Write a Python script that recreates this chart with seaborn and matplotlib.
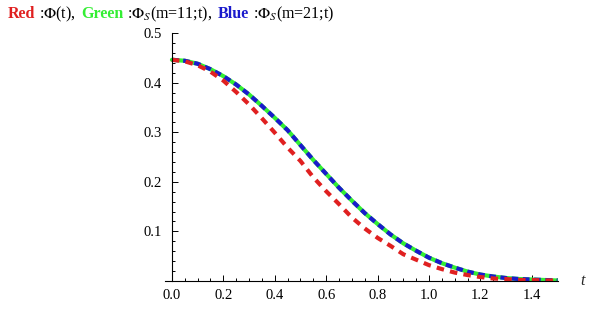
import numpy as np
import pandas as pd
import seaborn as sns
import matplotlib.pyplot as plt
import matplotlib.ticker as mticker

# time grid and curve values
t_vals = [0.00, 0.05, 0.10, 0.15, 0.20, 0.25, 0.30, 0.35, 0.40, 0.45,
          0.50, 0.55, 0.60, 0.65, 0.70, 0.75, 0.80, 0.85, 0.90, 0.95,
          1.00, 1.05, 1.10, 1.15, 1.20, 1.25, 1.30, 1.35, 1.40, 1.45, 1.50]
phi_exact = [0.446, 0.443, 0.435, 0.422, 0.404, 0.381, 0.356, 0.328, 0.299, 0.269,
             0.242, 0.209, 0.181, 0.155, 0.128, 0.106, 0.087, 0.071, 0.054, 0.043,
             0.032, 0.024, 0.017, 0.012, 0.008, 0.005, 0.004, 0.002, 0.002, 0.001, 0.001]
phi_s11 = [0.446, 0.444, 0.438, 0.427, 0.413, 0.396, 0.376, 0.353, 0.329, 0.304,
           0.274, 0.244, 0.216, 0.188, 0.162, 0.137, 0.115, 0.094, 0.076, 0.061,
           0.047, 0.036, 0.027, 0.019, 0.013, 0.009, 0.006, 0.004, 0.003, 0.002, 0.001]
phi_s21 = [0.446, 0.444, 0.438, 0.427, 0.413, 0.396, 0.376, 0.353, 0.329, 0.304,
           0.274, 0.244, 0.216, 0.188, 0.162, 0.137, 0.115, 0.094, 0.076, 0.061,
           0.047, 0.036, 0.027, 0.019, 0.013, 0.009, 0.006, 0.004, 0.003, 0.002, 0.001]

x_major = [0.0, 0.2, 0.4, 0.6, 0.8, 1.0, 1.2, 1.4]
y_major = [0.1, 0.2, 0.3, 0.4, 0.5]

df = pd.DataFrame({'t': t_vals, 'red': phi_exact, 'green': phi_s11, 'blue': phi_s21})

sns.set_style('white')
plt.rcParams['font.family'] = ['Liberation Serif', 'DejaVu Serif']
plt.rcParams['mathtext.fontset'] = 'stix'

W, H = 598, 309
fig = plt.figure(figsize=(W / 100, H / 100), dpi=100)
ax = fig.add_axes([165 / W, 1 - 281 / H, (558 - 165) / W, (281 - 33) / H])

sns.lineplot(data=df, x='t', y='green', ax=ax, color='#33ee33', linewidth=3.0)
sns.lineplot(data=df, x='t', y='blue', ax=ax, color='#1a1acc', linewidth=3.0,
             linestyle=(0, (1.6, 1.1)))
sns.lineplot(data=df, x='t', y='red', ax=ax, color='#e02020', linewidth=3.0,
             linestyle=(0, (1.8, 1.5)))

ax.set_xlim(-0.027, 1.502)
ax.set_ylim(0, 0.5)
ax.set_xlabel('')
ax.set_ylabel('')

for s in ['top', 'right']:
    ax.spines[s].set_visible(False)
ax.spines['left'].set_position(('data', 0))
for s in ['left', 'bottom']:
    ax.spines[s].set_linewidth(0.8)
    ax.spines[s].set_color('black')

ax.xaxis.set_major_locator(mticker.FixedLocator(x_major))
ax.xaxis.set_minor_locator(mticker.MultipleLocator(0.05))
ax.yaxis.set_major_locator(mticker.FixedLocator(y_major))
ax.yaxis.set_minor_locator(mticker.MultipleLocator(0.02))
ax.xaxis.set_major_formatter(mticker.FormatStrFormatter('%.1f'))
ax.yaxis.set_major_formatter(mticker.FormatStrFormatter('%.1f'))
ax.tick_params(which='both', direction='in', color='black', width=0.7, labelsize=10.5,
               labelcolor='black', bottom=True, left=True)
ax.tick_params(which='major', length=4)
ax.tick_params(which='minor', length=2.5)
ax.tick_params(axis='x', pad=6)
ax.tick_params(axis='y', pad=7)

fig.text(580 / W, 1 - 281 / H, 't', style='italic', fontsize=11.5, va='center', ha='left')

# coloured title pieces, placed one after another
pieces = [
    ('Red', '#e02020', 'bold'),
    (r' :$\Phi$(t),  ', 'black', 'normal'),
    ('Green', '#33ee33', 'bold'),
    (r' :$\Phi_S$(m=11;t),  ', 'black', 'normal'),
    ('Blue', '#1a1acc', 'bold'),
    (r' :$\Phi_S$(m=21;t)', 'black', 'normal'),
]
fig.canvas.draw()
renderer = fig.canvas.get_renderer()
x_px = 8
for txt, col, wt in pieces:
    tt = fig.text(x_px / W, 1 - 14 / H, txt, color=col, fontweight=wt, fontsize=11.5,
                  va='center', ha='left')
    bb = tt.get_window_extent(renderer=renderer)
    x_px += bb.width

fig.savefig('out.png', dpi=100, facecolor='white')
